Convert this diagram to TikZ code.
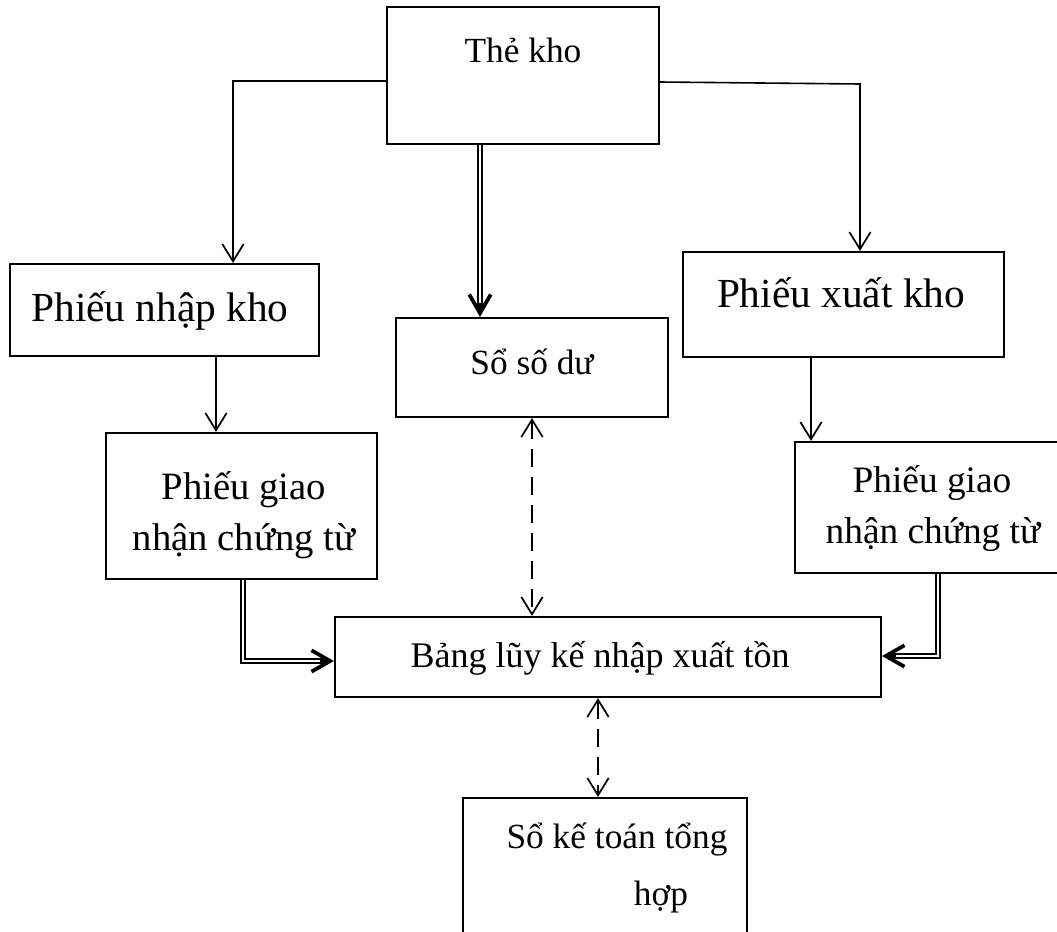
\documentclass[tikz,border=0pt]{standalone}
\usepackage{fontspec}
\setmainfont{Liberation Serif}
\usetikzlibrary{arrows.meta,calc}
\begin{document}
\begin{tikzpicture}[x=0.75pt,y=-0.75pt,
  box/.style={draw, line width=1.6pt, inner sep=0pt},
  txt/.style={anchor=base, inner sep=0pt, font=\fontsize{#1}{32pt}\selectfont},
  txt/.default=26.5pt,
  single/.style={line width=1.2pt, -{Straight Barb[length=13pt,width=16pt,line width=1.3pt]}},
  dbl/.style={double, double distance=2pt, line width=0.9pt, shorten >=6pt},
  heavytip/.style={line width=1.2pt, -{Straight Barb[length=14pt,width=16pt,line width=2.8pt]}},
  dashline/.style={line width=1.2pt, dash pattern=on 14pt off 7pt,
    {Straight Barb[length=13pt,width=16pt,line width=1.3pt]}-{Straight Barb[length=13pt,width=16pt,line width=1.3pt]}}]
\useasboundingbox (0,0) rectangle (1057,932);

% boxes
\node[box, minimum width=204pt, minimum height=102.75pt] (the) at (523,75.5) {};
\node[box, minimum width=231.75pt, minimum height=69pt] (pnk) at (164.5,310) {};
\node[box, minimum width=204pt, minimum height=74.25pt] (ssd) at (532,367.5) {};
\node[box, minimum width=240.75pt, minimum height=78.75pt] (pxk) at (843.5,304.5) {};
\node[box, minimum width=203.25pt, minimum height=109.5pt] (pgl) at (241.5,506) {};
\node[box, minimum width=201.75pt, minimum height=98.25pt] (pgr) at (929.5,507.5) {};
\node[box, minimum width=409.5pt, minimum height=60pt] (bang) at (608,657) {};
\node[box, minimum width=213pt, minimum height=114pt] (skt) at (605,874) {};

% texts
\node[txt] (tthe) at (523,62) {Thẻ kho};
\node[txt=31pt] (tpnk) at (160,321) {Phiếu nhập kho};
\node[txt] (tssd) at (532,374) {Sổ số dư};
\node[txt=31pt] (tpxk) at (841,307) {Phiếu xuất kho};
\node[txt=29pt] (tpgl1) at (244,499) {Phiếu giao};
\node[txt=29pt] (tpgl2) at (244,550) {nhận chứng từ};
\node[txt=28pt] (tpgr1) at (932,492) {Phiếu giao};
\node[txt=28pt] (tpgr2) at (933,543) {nhận chứng từ};
\node[txt=27pt] (tbang) at (600,667) {Bảng lũy kế nhập xuất tồn};
\node[txt] (tskt1) at (617,848) {Sổ kế toán tổng};
\node[txt] (tskt2) at (661,905) {hợp};

% single connectors
\coordinate (a1) at (233,81);
\draw[single] (the.west |- a1) -- (a1) -- (a1 |- pnk.north);
\coordinate (a2) at (860,84);
\draw[single] (the.east |- 0,82) -- (a2) -- (a2 |- pxk.north);
\coordinate (a7) at (216,0);
\draw[single] (a7 |- pnk.south) -- (a7 |- pgl.north);
\coordinate (a8) at (811,0);
\draw[single] (a8 |- pxk.south) -- (a8 |- pgr.north);

% double connectors
\coordinate (a3) at (480,0);
\draw[dbl] (a3 |- the.south) -- (a3 |- ssd.north);
\draw[heavytip] ($(a3 |- ssd.north)+(0,-14)$) -- (a3 |- ssd.north);
\coordinate (a4) at (243,661);
\draw[dbl] (a4 |- pgl.south) -- (a4) -- (a4 -| bang.west);
\draw[heavytip] ($(a4 -| bang.west)+(-14,0)$) -- (a4 -| bang.west);
\coordinate (a5) at (938,656);
\draw[dbl] (a5 |- pgr.south) -- (a5) -- (a5 -| bang.east);
\draw[heavytip] ($(a5 -| bang.east)+(14,0)$) -- (a5 -| bang.east);

% dashed two-way connectors
\draw[dashline] (ssd.south) -- (ssd.south |- bang.north);
\coordinate (a6) at (598,0);
\draw[dashline] (a6 |- bang.south) -- (a6 |- skt.north);
\end{tikzpicture}
\end{document}
